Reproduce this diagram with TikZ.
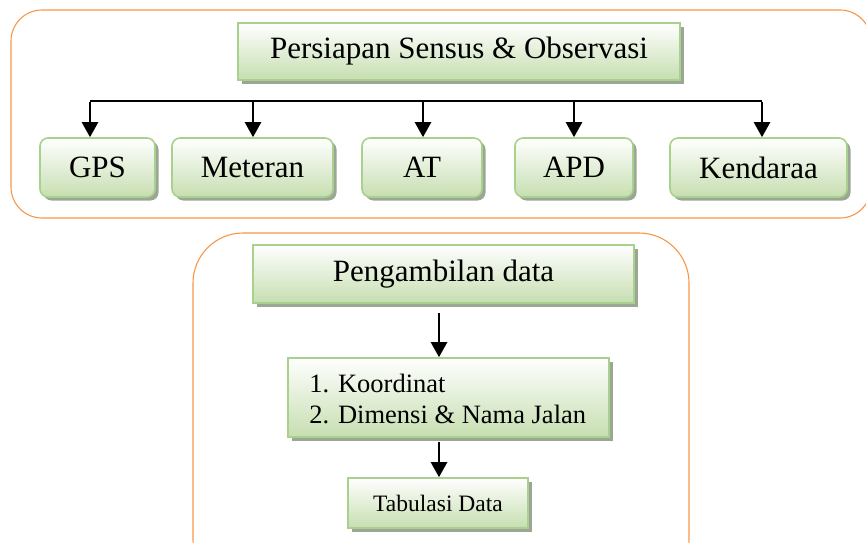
\documentclass[tikz,border=0pt]{standalone}
\usepackage{fontspec}
\setmainfont{Liberation Serif}
\usetikzlibrary{shadows,arrows.meta}
\definecolor{orangec}{RGB}{247,150,70}
\definecolor{greenb}{RGB}{169,209,142}
\definecolor{greenf}{RGB}{198,222,176}
\definecolor{shadowc}{RGB}{155,166,148}
\tikzset{
  frame/.style={draw=orangec, line width=1.1pt},
  gbox/.style={draw=greenb, line width=1.6pt, top color=white, bottom color=greenf,
    drop shadow={shadow xshift=3.5pt, shadow yshift=-3.5pt, fill=shadowc, opacity=1},
    inner sep=0pt, font=\fontsize{31}{36}\selectfont},
  rbox/.style={gbox, rounded corners=8pt},
  arr/.style={line width=2.4pt, -{Triangle[width=16pt,length=15pt]}},
  bar/.style={line width=2.4pt},
}
\begin{document}
\begin{tikzpicture}[x=1pt,y=-1pt]
\useasboundingbox (0,0) rectangle (866,542);
\begin{scope}
\clip (0,0) rectangle (866,542);
\draw[frame, rounded corners=31pt] (11,10) rectangle (871,218);
\draw[frame, rounded corners=50pt] (193,233) rectangle (689,590);
\end{scope}
% top section
\node[gbox, minimum width=442pt, minimum height=57pt] (title) at (459,51.5) {Persiapan Sensus \& Observasi};
\node[rbox, minimum width=115pt, minimum height=59pt] (gps) at (97.5,167.5) {GPS};
\node[rbox, minimum width=161pt, minimum height=59pt] (met) at (252.5,167.5) {Meteran};
\node[rbox, minimum width=120pt, minimum height=59pt] (at) at (422,167.5) {AT};
\node[rbox, minimum width=118pt, minimum height=59pt] (apd) at (574,167.5) {APD};
\node[rbox, minimum width=177pt, minimum height=59pt] (ken) at (758.5,167.5) {Kendaraa};
\coordinate (b1) at (90,101);
\coordinate (b2) at (253,101);
\coordinate (b3) at (423,101);
\coordinate (b4) at (574,101);
\coordinate (b5) at (762,101);
\draw[bar] (b1) -- (b5);
\draw[arr] ([yshift=-1.2pt]b1) -- (b1 |- gps.north);
\draw[arr] (b2) -- (b2 |- met.north);
\draw[arr] (b3) -- (b3 |- at.north);
\draw[arr] (b4) -- (b4 |- apd.north);
\draw[arr] ([yshift=-1.2pt]b5) -- (b5 |- ken.north);
% bottom section
\node[gbox, minimum width=321pt, minimum height=79pt] (koor) at (448.5,397.5) {};
\node[anchor=west, inner sep=0pt, font=\fontsize{26.5}{31}\selectfont, align=left] (koortxt) at ([xshift=22pt,yshift=-1pt]koor.west) {1. Koordinat\\2. Dimensi \& Nama Jalan};
\node[gbox, minimum width=381pt, minimum height=58pt] (peng) at (443.5,274) {Pengambilan data};
\node[gbox, minimum width=180pt, minimum height=50pt, font=\fontsize{23.5}{28}\selectfont] (tab) at (438,503) {Tabulasi Data};
\coordinate (a1) at (439,313);
\coordinate (a2) at (439,442);
\draw[arr] (a1) -- (a1 |- koor.north);
\draw[arr] (a2) -- (a2 |- tab.north);
\end{tikzpicture}
\end{document}
